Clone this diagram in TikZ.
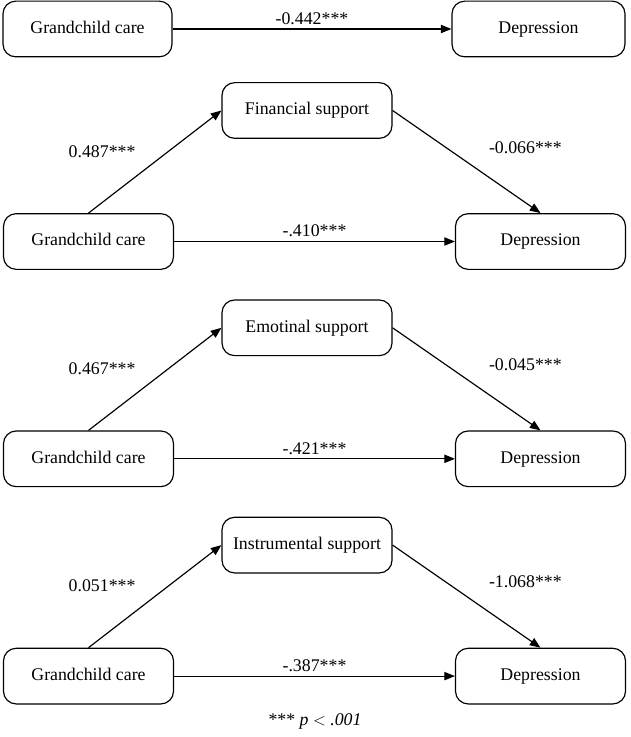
\documentclass[tikz,border=0pt]{standalone}
\usepackage{fontspec}
\setmainfont{Liberation Serif}
\usetikzlibrary{arrows.meta,positioning}

\tikzset{
	box/.style={draw, line width=1pt, rounded corners=0.38cm, minimum height=1.67cm, text height=1.65ex, text depth=0ex, font=\fontsize{15.2}{17}\selectfont},
	link/.style={-{Triangle[length=0.32cm,width=0.25cm]}, line width=1pt},
	coef/.style={font=\fontsize{15.2}{17}\selectfont}
}

\begin{document}
\begin{tikzpicture}[x=0.03cm, y=-0.03cm]
	\useasboundingbox (0,0) rectangle (630,737);
	
	% total effect
	\node[box, minimum width=5.07cm] (gc0) at (87.5,29) {Grandchild care};
	\node[box, minimum width=5.19cm] (dep0) at (538.5,29) {Depression};
	\draw[link] (gc0) -- node[coef, above] {-0.442***} (dep0);
	
	% mediation models
	\foreach \i/\med/\a/\b/\c in {1/Financial support/0.487***/-0.066***/-.410***,
		2/Emotinal support/0.467***/-0.045***/-.421***,
		3/Instrumental support/0.051***/-1.068***/-.387***}{
		\pgfmathsetmacro\dy{217.3*(\i-1)}
		\node[box, minimum width=5.1cm] (med\i) at (307,110.5+\dy) {\med};
		\node[box, minimum width=5.1cm] (gc\i) at (88.5,241.5+\dy) {Grandchild care};
		\node[box, minimum width=5.1cm] (dep\i) at (540.5,241.5+\dy) {Depression};
		\draw[link] (gc\i.north) -- node[coef, above left=0cm and 0.45cm] {\a} (med\i.west);
		\draw[link] (med\i.east) -- node[coef, above right=0.12cm and 0.54cm] {\b} (dep\i.north);
		\draw[link] (gc\i) -- node[coef, above] {\c} (dep\i);
	}
	
	\node[coef] (note) at (315,721) {*** \textit{p} $<$ \textit{.001}};
\end{tikzpicture}
\end{document}
